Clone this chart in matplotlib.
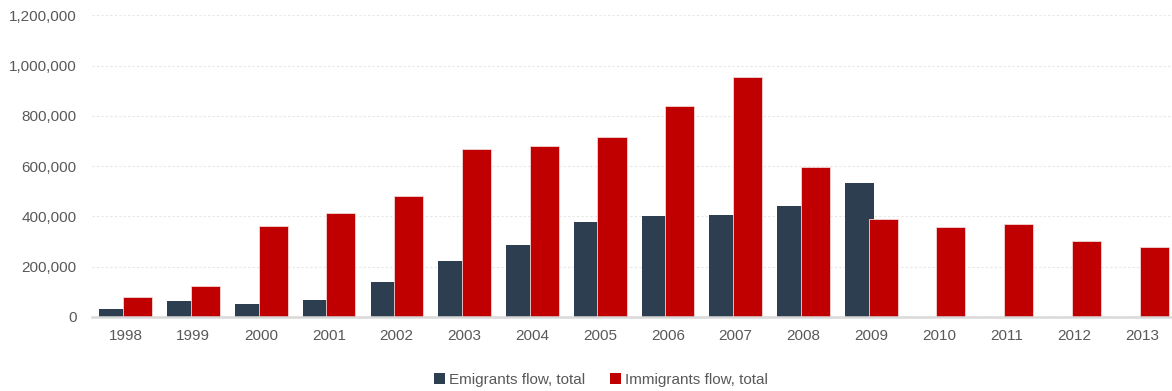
import matplotlib
matplotlib.use("Agg")
import matplotlib.pyplot as plt
from matplotlib.ticker import FuncFormatter
import numpy as np

# --- DATA ---
years = ["1998", "1999", "2000", "2001", "2002", "2003", "2004", "2005",
         "2006", "2007", "2008", "2009", "2010", "2011", "2012", "2013"]
emigrants = [33000, 63500, 53000, 66000, 140500, 224000, 286000, 377500,
             401500, 407000, 442500, 531500, np.nan, np.nan, np.nan, np.nan]
immigrants = [78000, 124500, 360500, 412000, 481000, 669000, 681000, 715500,
              837500, 955500, 597500, 389500, 358000, 370000, 303500, 278500]

EMIG_COLOR = "#2d3e50"
IMMIG_COLOR = "#c00000"
TEXT_COLOR = "#595959"

plt.rcParams["font.family"] = ["Liberation Sans", "DejaVu Sans"]

fig = plt.figure(figsize=(11.72, 3.91), dpi=100)
ax = fig.add_axes([91.7 / 1172, 74 / 391, 1080.3 / 1172, 301.7 / 391])

x = np.arange(len(years))
w = 0.43
ax.bar(x - 0.171, emigrants, w, color=EMIG_COLOR, zorder=2,
       label="Emigrants flow, total")
ax.bar(x + 0.177, immigrants, w, color=IMMIG_COLOR, zorder=3,
       edgecolor="#f3d6d6", linewidth=0.6, label="Immigrants flow, total")

ax.set_xlim(-0.5, 15.44)
ax.set_ylim(0, 1200000)
ax.set_yticks(range(0, 1200001, 200000))
ax.yaxis.set_major_formatter(FuncFormatter(lambda v, p: f"{int(v):,}"))
ax.set_xticks(x)
ax.set_xticklabels(years)

ax.grid(axis="y", color="#e6e6e6", linestyle=(0, (2, 2)), linewidth=0.8, zorder=0)
ax.set_axisbelow(True)
for s in ["top", "right", "left"]:
    ax.spines[s].set_visible(False)
ax.spines["bottom"].set_color("#d9d9d9")
ax.spines["bottom"].set_linewidth(1.8)
ax.spines["bottom"].set_zorder(4)

ax.tick_params(axis="both", length=0, labelsize=11, colors=TEXT_COLOR)
ax.tick_params(axis="y", pad=11)
ax.tick_params(axis="x", pad=9)

leg = fig.legend(loc="center", bbox_to_anchor=(601 / 1172, 1 - 380 / 391),
                 ncol=2, frameon=False, fontsize=11, handlelength=0.7,
                 handleheight=0.7, handletextpad=0.3, columnspacing=1.6)
for t in leg.get_texts():
    t.set_color(TEXT_COLOR)
for h in leg.legend_handles:
    h.set_edgecolor("none")

fig.savefig("out.png", dpi=100, facecolor="white")
